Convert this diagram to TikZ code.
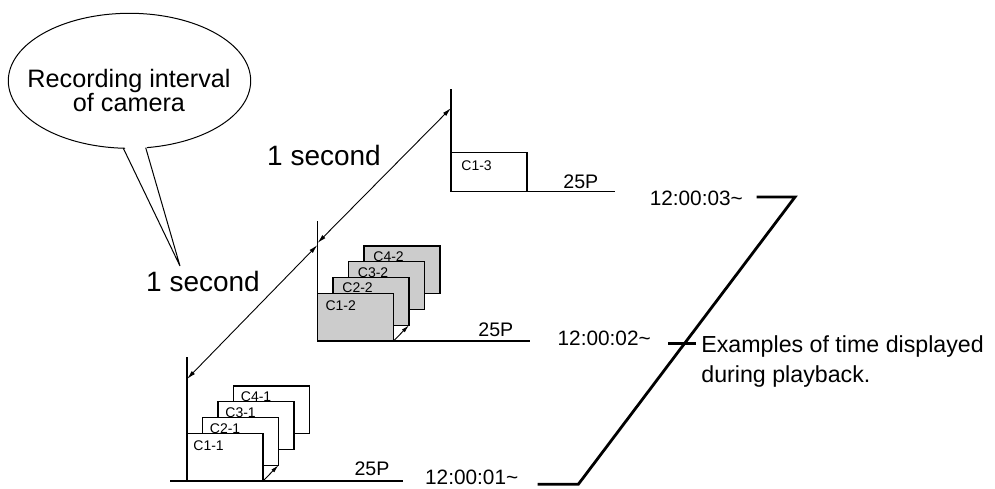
\documentclass[tikz,border=0pt]{standalone}
\usepackage{fontspec}
\setmainfont{Liberation Sans}
\usepackage{xcolor}
\usetikzlibrary{positioning,arrows.meta,shapes.geometric}
\definecolor{framegray}{gray}{0.8}

\begin{document}
\begin{tikzpicture}[x=0.5pt,y=-0.5pt,
  frame/.style={draw,line width=0.6pt,fill=white,inner sep=0pt,outer sep=0pt,
                minimum width=38pt,minimum height=23.8pt,anchor=south west},
  grayframe/.style={frame,fill=framegray},
  tag/.style={inner sep=0pt,font=\fontsize{7}{8}\selectfont},
  rate/.style={inner sep=0pt,font=\fontsize{9.8}{11}\selectfont},
  stamp/.style={inner sep=0pt,font=\fontsize{10.4}{12}\selectfont},
  sec/.style={inner sep=0pt,font=\fontsize{14}{16}\selectfont},
  balloon/.style={ellipse,draw,fill=white,line width=0.5pt,inner sep=0pt,
                  minimum width=121.2pt,minimum height=67.5pt},
  axis/.style={line width=0.7pt},
  arr/.style={{Latex[length=4.5pt,width=2.2pt]}-{Latex[length=4.5pt,width=2.2pt]},line width=0.45pt},
  small/.style={-{Latex[length=4pt,width=2pt]},line width=0.45pt},
  bracket/.style={line width=1.4pt}]
  \useasboundingbox (0,0) rectangle (995,488);

  % balloon
  \node[balloon] (bubble) at (129.5,80.8) {};
  \coordinate (b1) at (123.3,148.2);
  \coordinate (b2) at (145.7,147.7);
  \coordinate (tip) at (180,266);
  \fill[white] (123.3,144.5) -- (tip) -- (145.7,144) -- cycle;
  \draw[line width=0.5pt] (b1) -- (tip) -- (b2);
  \node[align=center,inner sep=0pt,font=\fontsize{12.6}{12.2}\selectfont]
    (bubbletxt) at (129,90.3) {Recording interval\\of camera};

  % first second
  \coordinate (o1) at (187,481);
  \draw[axis] (187,357) -- (o1);
  \draw[axis] (170,481) -- (403,481);
  \node[frame] (c41) at (233.5,433.6) {};
  \node[frame] (c31) at (218,449.4) {};
  \node[frame] (c21) at (202.5,465.2) {};
  \node[frame] (c11) at (o1) {};
  \node[tag,below right=2.8pt and 3.5pt of c41.north west] (t41) {C4-1};
  \node[tag,below right=2.8pt and 3.5pt of c31.north west] (t31) {C3-1};
  \node[tag,below right=2.8pt and 3.5pt of c21.north west] (t21) {C2-1};
  \node[tag,below right=3.6pt and 3pt of c11.north west] (t11) {C1-1};
  \draw[small] (c11.south east) -- (c21.south east);
  \node[rate] (r1) at (372,468.3) {25P};

  % second second
  \coordinate (o2) at (317.5,341);
  \draw[axis] (317.5,221) -- (o2);
  \draw[axis] (o2) -- (530,341);
  \node[grayframe] (c42) at (364,293.6) {};
  \node[grayframe] (c32) at (348.5,309.4) {};
  \node[grayframe] (c22) at (333,325.2) {};
  \node[grayframe] (c12) at (o2) {};
  \node[tag,below right=2.6pt and 4.5pt of c42.north west] (t42) {C4-2};
  \node[tag,below right=2.6pt and 4.5pt of c32.north west] (t32) {C3-2};
  \node[tag,below right=2.6pt and 4.5pt of c22.north west] (t22) {C2-2};
  \node[tag,below right=3.4pt and 3.8pt of c12.north west] (t12) {C1-2};
  \draw[small] (c12.south east) -- (c22.south east);
  \node[rate] (r2) at (495.8,330) {25P};

  % third second
  \coordinate (o3) at (451,191.7);
  \draw[axis] (451,89) -- (o3);
  \draw[axis] (o3) -- (615,191.7);
  \node[frame,minimum height=19.5pt] (c13) at (o3) {};
  \node[tag,below right=3.6pt and 5pt of c13.north west] (t13) {C1-3};
  \node[rate] (r3) at (580.8,181.7) {25P};

  % recording interval
  \coordinate (p1) at (187,379);
  \coordinate (p2) at (317.5,245);
  \coordinate (p3) at (317.5,243);
  \coordinate (p4) at (451,108);
  \draw[arr] (p1) -- (p2);
  \draw[arr] (p3) -- (p4);
  \node[sec] (sec1) at (203,281) {1 second};
  \node[sec] (sec2) at (324,155) {1 second};

  % time stamps
  \node[stamp] (ts1) at (471.7,477.5) {12:00:01\char`\~};
  \node[stamp] (ts2) at (604.2,338) {12:00:02\char`\~};
  \node[stamp] (ts3) at (696.3,198.5) {12:00:03\char`\~};
  \coordinate (k1) at (537.7,484.3);
  \coordinate (k2) at (578.3,484.3);
  \coordinate (k3) at (795,197);
  \coordinate (k4) at (756.7,197);
  \coordinate (k5) at (668.3,343.3);
  \coordinate (k6) at (695.7,343.3);
  \draw[bracket] (k1) -- (k2) -- (k3) -- (k4);
  \draw[bracket] (k5) -- (k6);
  \node[anchor=north west,align=left,inner sep=0pt,
        font=\fontsize{11.6}{15}\selectfont] (note) at (701,335)
        {Examples of time displayed\\during playback.};
\end{tikzpicture}
\end{document}
